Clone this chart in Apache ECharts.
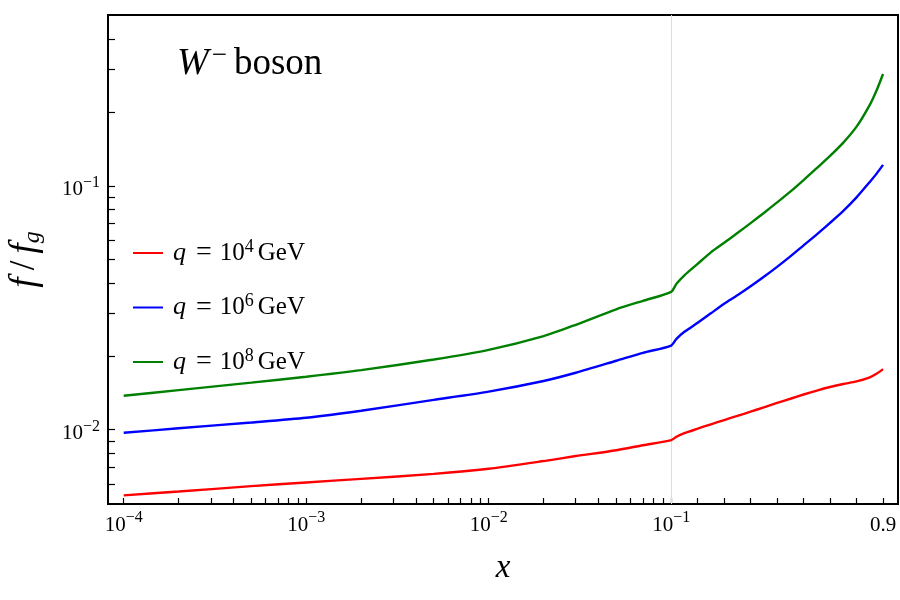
<!DOCTYPE html>
<html>
<head>
<meta charset="utf-8">
<script src="https://cdn.jsdelivr.net/npm/echarts@6/dist/echarts.min.js"></script>
<style>html,body{margin:0;padding:0;background:#fff}#main{width:900px;height:600px}</style>
</head>
<body>
<div id="main"></div>
<script>
// ---- data ----
const xValues = [1e-4, 2e-4, 5e-4, 1e-3, 2e-3, 5e-3, 1e-2, 2e-2, 3e-2, 5e-2, 7e-2, 0.1, 0.12, 0.15, 0.2, 0.25, 0.3, 0.35, 0.4, 0.45, 0.5, 0.55, 0.6, 0.65, 0.7, 0.75, 0.8, 0.85, 0.875, 0.9];
const redValues = [0.00538, 0.00558, 0.00587, 0.00608, 0.00629, 0.00659, 0.00692, 0.00744, 0.00780, 0.00824, 0.00864, 0.00906, 0.00936, 0.00968, 0.01010, 0.01053, 0.01096, 0.01140, 0.01186, 0.01236, 0.01288, 0.01340, 0.01395, 0.01448, 0.01497, 0.01540, 0.01578, 0.01641, 0.01696, 0.01773];
const blueValues = [0.00972, 0.01014, 0.01071, 0.01120, 0.01197, 0.01326, 0.01434, 0.01585, 0.01713, 0.01918, 0.02068, 0.02215, 0.02360, 0.02521, 0.02745, 0.03003, 0.03285, 0.03557, 0.03873, 0.04237, 0.04656, 0.05141, 0.05703, 0.06327, 0.07053, 0.07898, 0.08972, 0.1038, 0.1120, 0.1219];
const greenValues = [0.01378, 0.01453, 0.01560, 0.01649, 0.01755, 0.01941, 0.02126, 0.02421, 0.02694, 0.03118, 0.03378, 0.03678, 0.03966, 0.04297, 0.04789, 0.05339, 0.05840, 0.06406, 0.07033, 0.07744, 0.08557, 0.09467, 0.1056, 0.1183, 0.1327, 0.1504, 0.1749, 0.2150, 0.2455, 0.2877];
const seriesNames = ['q = 10^4 GeV', 'q = 10^6 GeV', 'q = 10^8 GeV'];
const seriesExps = ['4', '6', '8'];
const seriesColors = ['#ff0000', '#0000ff', '#008000'];

const xTickValues = [1e-4, 1e-3, 1e-2, 0.1, 0.9];
const xTickLabels = ['10^−4', '10^−3', '10^−2', '10^−1', '0.9'];
const yTickValues = [0.01, 0.1];
const yTickLabels = ['10^−2', '10^−1'];
const xBreak = 0.1;

// ---- scale: log below 0.1, linear above 0.1 ----
const LIN_K = 1.45126;
function tx(x) { return x <= xBreak ? Math.log10(x) : Math.log10(xBreak) + (x - xBreak) * LIN_K; }
function ty(y) { return Math.log10(y); }

// minor tick positions
const xMinor = [];
for (let d = -4; d <= -2; d++) for (let k = 1; k <= 9; k++) xMinor.push(k * Math.pow(10, d));
for (let k = 1; k <= 9; k++) xMinor.push(k / 10);
const yMinor = [];
for (let k = 6; k <= 9; k++) yMinor.push(k / 1000);
for (let k = 1; k <= 9; k++) yMinor.push(k / 100);
for (let k = 1; k <= 4; k++) yMinor.push(k / 10);

const FONT = 'Liberation Serif';
function richLabel(s) {
  if (s.indexOf('^') < 0) return '{b|' + s + '}';
  const p = s.split('^');
  return '{b|' + p[0] + '}{sup|' + p[1] + '}';
}
function pick(vals, labels, tf, v) {
  for (let i = 0; i < vals.length; i++) if (Math.abs(tf(vals[i]) - v) < 1e-6) return richLabel(labels[i]);
  return '';
}
const labelRich = {
  b: { fontFamily: FONT, fontSize: 21, lineHeight: 30, color: '#000' },
  sup: { fontFamily: FONT, fontSize: 16, lineHeight: 15, verticalAlign: 'top', color: '#000' }
};

const chart = echarts.init(document.getElementById('main'), null, { renderer: 'canvas' });

const series = [redValues, blueValues, greenValues].map((vals, i) => ({
  name: seriesNames[i],
  type: 'line',
  data: xValues.map((x, j) => [tx(x), ty(vals[j])]),
  showSymbol: false,
  smooth: 0.25,
  lineStyle: { color: seriesColors[i], width: 2.4 },
  itemStyle: { color: seriesColors[i] },
  z: 3
}));
series[0].markLine = {
  silent: true,
  symbol: ['none', 'none'],
  label: { show: false },
  lineStyle: { color: '#dddddd', width: 1, type: 'solid' },
  data: [{ xAxis: tx(xBreak) }],
  z: 1
};

const option = {
  animation: false,
  backgroundColor: '#fff',
  grid: { left: 108, right: 2, top: 15, bottom: 96, show: true, borderColor: '#000', borderWidth: 2, containLabel: false, outerBoundsMode: 'none' },
  xAxis: {
    type: 'value', min: -4.086, max: 0.243,
    axisLine: { show: false, onZero: false },
    splitLine: { show: false },
    axisTick: { show: true, inside: true, length: 6, lineStyle: { color: '#000', width: 1.2 }, customValues: xMinor.map(tx) },
    axisLabel: {
      customValues: xTickValues.map(tx), margin: 6,
      formatter: v => pick(xTickValues, xTickLabels, tx, v),
      rich: labelRich
    },
    name: 'x', nameLocation: 'middle', nameGap: 48,
    nameTextStyle: { fontFamily: FONT, fontStyle: 'italic', fontSize: 33, color: '#000' }
  },
  yAxis: {
    type: 'value', min: -2.3045, max: -0.2993,
    axisLine: { show: false, onZero: false },
    splitLine: { show: false },
    axisTick: { show: true, inside: true, length: 7, lineStyle: { color: '#000', width: 1.2 }, customValues: yMinor.map(ty) },
    axisLabel: {
      customValues: yTickValues.map(ty), margin: 8, padding: [8, 0, 0, 0],
      formatter: v => pick(yTickValues, yTickLabels, ty, v),
      rich: labelRich
    },
    name: '{i|f}{s|/}{i|f}{sub|g}', nameLocation: 'middle', nameGap: 63, nameRotate: 90,
    nameTextStyle: {
      color: '#000',
      rich: {
        i: { fontFamily: FONT, fontStyle: 'italic', fontSize: 37, lineHeight: 40, color: '#000' },
        s: { fontFamily: FONT, fontSize: 35, lineHeight: 40, padding: [0, 7, 0, 7], color: '#000' },
        sub: { fontFamily: FONT, fontStyle: 'italic', fontSize: 24, lineHeight: 24, verticalAlign: 'bottom', color: '#000' }
      },
      fontFamily: FONT, fontSize: 30
    }
  },
  legend: {
    orient: 'vertical', left: 133, top: 238, padding: 0,
    itemWidth: 30, itemHeight: 2, itemGap: 25.5, icon: 'rect',
    selectedMode: false,
    data: seriesNames,
    formatter: name => {
      const i = seriesNames.indexOf(name);
      return '{q|q}{e|=}{b|10}{sup|' + seriesExps[i] + '}{g|GeV}';
    },
    textStyle: {
      color: '#000', fontFamily: FONT, fontSize: 24,
      rich: {
        q: { fontFamily: FONT, fontStyle: 'italic', fontSize: 26, lineHeight: 30, padding: [0, 0, 0, 5], color: '#000' },
        e: { fontFamily: FONT, fontSize: 28, lineHeight: 30, padding: [0, 8, 0, 10], color: '#000' },
        b: { fontFamily: FONT, fontSize: 25, lineHeight: 30, color: '#000' },
        sup: { fontFamily: FONT, fontSize: 18, lineHeight: 20, verticalAlign: 'top', color: '#000' },
        g: { fontFamily: FONT, fontSize: 25, lineHeight: 30, padding: [0, 0, 0, 4], color: '#000' }
      }
    }
  },
  graphic: [{
    type: 'text', x: 177, y: 42, z: 10,
    style: {
      text: '{w|W}{m|−}{r|boson}',
      rich: {
        w: { fontFamily: FONT, fontStyle: 'italic', fontSize: 38, lineHeight: 44, fill: '#000' },
        m: { fontFamily: FONT, fontSize: 27, lineHeight: 26, verticalAlign: 'top', padding: [0, 7, 0, 3], fill: '#000' },
        r: { fontFamily: FONT, fontSize: 37, lineHeight: 44, fill: '#000' }
      }
    }
  }],
  series: series
};
chart.setOption(option);
</script>
</body>
</html>
